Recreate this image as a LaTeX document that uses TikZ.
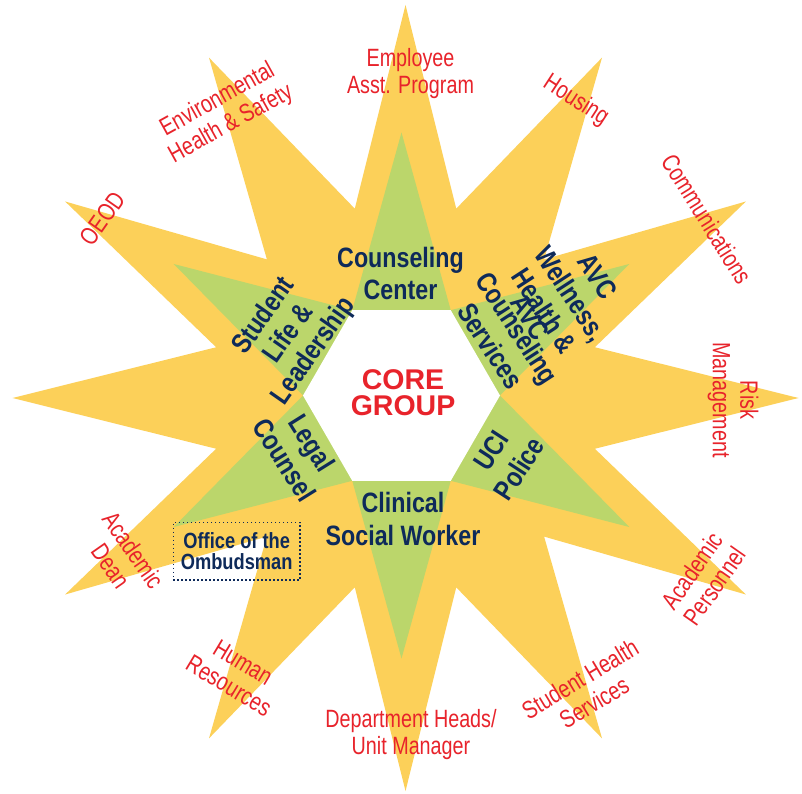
\documentclass[tikz,border=0pt]{standalone}
\usepackage{fontspec}
\setmainfont{Liberation Sans}
\newfontfamily\redfont{Liberation Sans}[FakeStretch=0.79]
\newfontfamily\navyfont{Liberation Sans}[FakeStretch=0.83]
\definecolor{ystar}{HTML}{FCD059}
\definecolor{gstar}{HTML}{BBD66B}
\definecolor{navy}{HTML}{0E2A5A}
\definecolor{redtxt}{HTML}{E8232B}
\tikzset{
  periph/.style={inner sep=0pt, align=center, text=redtxt,
    font=\redfont\fontsize{25}{27.5}\selectfont},
  coretxt/.style={inner sep=0pt, align=center, text=navy,
    font=\navyfont\bfseries\fontsize{28}{32}\selectfont},
  centretxt/.style={inner sep=0pt, align=center, text=redtxt,
    font=\bfseries\fontsize{28.5}{26}\selectfont},
  ombbox/.style={draw=navy, line width=1.4pt, dash pattern=on 1.4pt off 2.6pt,
    minimum width=126.7pt, minimum height=57.3pt, inner sep=0pt, align=center,
    text=navy, font=\navyfont\bfseries\fontsize{22}{21.5}\selectfont}
}
\begin{document}
\begin{tikzpicture}[x=1pt,y=1pt]
\useasboundingbox (0,0) rectangle (802,793);
\fill[white] (0,0) rectangle (802,793);
% yellow 12-point star
\begin{scope}[shift={(405.5,395)}]
\fill[ystar] (0:393) \foreach \a in {15,45,...,345}{ -- (\a:196) -- (\a+15:393)} -- cycle;
\end{scope}
% green 6-point star and white hexagon
\begin{scope}[shift={(401.5,397.5)}]
\fill[gstar] (0:98.5) \foreach \a in {30,90,...,330}{ -- (\a:263) -- (\a+30:98.5)} -- cycle;
\fill[white] (0:98.5) \foreach \a in {60,120,...,300}{ -- (\a:98.5)} -- cycle;
\end{scope}
% peripheral labels
\node[periph] (emp) at (410.5,719.5) {Employee\\Asst. Program};
\node[periph, rotate=29] (ehs) at (224.4,680.8) {Environmental\\Health \& Safety};
\node[periph, rotate=-33] (hous) at (575.7,692.3) {Housing};
\node[periph, rotate=-58] (comm) at (706.7,574) {Communications};
\node[periph, rotate=-90] (risk) at (733,393) {Risk\\Management};
\node[periph, rotate=55] (acp) at (703.3,214.7) {Academic\\Personnel};
\node[periph, rotate=31] (shs) at (587,102.5) {Student Health\\Services};
\node[periph] (dept) at (411,58.5) {Department Heads/\\Unit Manager};
\node[periph, rotate=-31] (hr) at (236,119) {Human\\Resources};
\node[periph, rotate=-55] (acd) at (122,235) {Academic\\Dean};
\node[periph, rotate=55] (oeod) at (102.5,574.7) {OEOD};
% core members
\node[coretxt] (cc) at (400.5,519.2) {Counseling\\Center};
\node[coretxt, rotate=55, font=\navyfont\bfseries\fontsize{28}{30.5}\selectfont] (slm) at (289.3,459.3) {Student\\Life \&\\Leadership};
\node[coretxt, rotate=-57] (avc) at (544,482) {AVC\\Wellness,\\Health \&\\Counseling\\Services};
\node[coretxt, rotate=-57] (avcb) at (530,476) {AVC};
\node[coretxt, rotate=-58] (lc) at (298.3,341.7) {Legal\\Counsel};
\node[coretxt, rotate=57, font=\navyfont\bfseries\fontsize{28}{33.5}\selectfont] (uci) at (505.1,333.3) {UCI\\Police};
\node[coretxt, font=\navyfont\bfseries\fontsize{28}{32.7}\selectfont] (csw) at (403,274.2) {Clinical\\Social Worker};
\node[centretxt] (core) at (403,400.5) {CORE\\GROUP};
\node[ombbox] (omb) at (236.7,241.7) {Office of the\\Ombudsman};
\end{tikzpicture}
\end{document}
